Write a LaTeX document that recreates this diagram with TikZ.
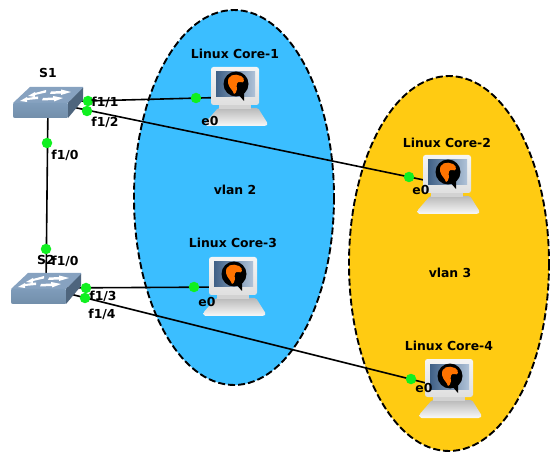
\documentclass[tikz,border=0pt]{standalone}
\usepackage{fontspec}
\setmainfont{DejaVu Sans}
\definecolor{vlanblue}{HTML}{3BBEFF}
\definecolor{vlanyellow}{HTML}{FFCB12}
\definecolor{swtop}{HTML}{87A2C0}
\definecolor{swfront}{HTML}{7091B2}
\definecolor{swside}{HTML}{A3B8CC}
\definecolor{scr}{HTML}{4F78A8}
\definecolor{linkdot}{HTML}{10F020}
\tikzset{
  vlan/.style={draw=black,line width=1.9pt,dash pattern=on 7pt off 3pt},
  link/.style={draw=black,line width=1.6pt},
  dot/.style={circle,fill=linkdot,draw=none,minimum size=10.5pt,inner sep=0pt},
  lab/.style={font=\bfseries\fontsize{12.4}{14}\selectfont,text=black,inner sep=0pt,anchor=center},
}
% monitor top-left at (#1,#2)
\newcommand{\pcicon}[2]{%
\begin{scope}[shift={(#1,#2)}]
  \shade[top color=gray!55,bottom color=white!95!gray,rounded corners=1.5pt] (7,41) -- (47,41) -- (57,57) -- (55,59) -- (-5,59) -- (-6,56) -- cycle;
  \fill[gray!35] (8,36) rectangle (40,42);
  \shade[top color=white!92!gray,bottom color=gray!25,rounded corners=2.5pt] (0,0) rectangle (48,38);
  \shade[left color=scr!80!black,right color=scr!45!white] (5,5) rectangle (44,30);
  \fill[black] (25,17) circle (12.5);
  \fill[black] (26,26) -- (33,34) -- (33,24) -- cycle;
  \fill[orange!90!red] (17,16) .. controls (16,8) and (24,6) .. (30,9) .. controls (35,12) and (33,17) .. (29,15) .. controls (26,14) and (25,18) .. (26,22) .. controls (26,25) and (24,27) .. (23,27) .. controls (22,23) and (18,21) .. (17,16) -- cycle;
\end{scope}}
\newcommand{\swicon}[2]{%
\begin{scope}[shift={(#1,#2)}]
  \fill[swtop] (17,0) -- (70,0) -- (70,2) -- (55,16) -- (0,16) -- cycle;
  \shade[top color=swfront!90!white,bottom color=swfront!85!gray,rounded corners=1pt] (0,16) -- (55,16) -- (55,31) -- (1,31) -- (0,30) -- cycle;
  \fill[swfront!70!black] (55,16) -- (70,1) -- (70,13) -- (55,31) -- cycle;
  \fill[white] (15,9) -- (22,5) -- (22,6) -- (33,3) -- (33,5.5) -- (22,8) -- (22,10) -- cycle;
  \fill[white] (38,4.5) -- (48,4) -- (48,2.5) -- (58,5) -- (48,8) -- (48,6.5) -- (37,7) -- cycle;
  \fill[white] (7,14) -- (14,10) -- (14,11) -- (25,9.5) -- (25,12) -- (14,13) -- (14,15) -- cycle;
  \fill[white] (30,11) -- (40,10.5) -- (40,9) -- (50,11) -- (41,14.5) -- (41,13) -- (29,13.5) -- cycle;
\end{scope}}
\begin{document}
\begin{tikzpicture}[x=1pt,y=-1pt]
\useasboundingbox (0,0) rectangle (560,465);
\fill[white] (0,0) rectangle (560,465);
\draw[vlan,fill=vlanblue] (234,197.5) ellipse [x radius=100,y radius=187.5];
\draw[vlan,fill=vlanyellow] (449,263.5) ellipse [x radius=100,y radius=187.5];
\coordinate (s1) at (48,102);
\coordinate (s2) at (46,288);
\coordinate (c1) at (238,97);
\coordinate (c2) at (448,185);
\coordinate (c3) at (236,287);
\coordinate (c4) at (450,389);
\draw[link] (s1) -- (s2);
\draw[link] (s1) -- (c1);
\draw[link] (s1) -- (c2);
\draw[link] (s2) -- (c3);
\draw[link] (s2) -- (c4);
\swicon{13}{87}
\swicon{11}{273}
\pcicon{211}{67}
\pcicon{423}{155}
\pcicon{209}{257}
\pcicon{425}{359}
\node[dot] (d1) at (47,143) {};
\node[dot] (d2) at (46,249) {};
\node[dot] (d3) at (88,101) {};
\node[dot] (d4) at (87,111) {};
\node[dot] (d5) at (196,98) {};
\node[dot] (d6) at (409,177) {};
\node[dot] (d7) at (86,288) {};
\node[dot] (d8) at (85,298) {};
\node[dot] (d9) at (194,287) {};
\node[dot] (d10) at (411,379) {};
\node[lab] (ls1) at (48,73) {S1};
\node[lab] (ls2) at (46,260) {S2};
\node[lab] (l1) at (235,54) {Linux Core-1};
\node[lab] (l2) at (447,143) {Linux Core-2};
\node[lab] (l3) at (233,243) {Linux Core-3};
\node[lab] (l4) at (449,346) {Linux Core-4};
\node[lab] (v2) at (235,190) {vlan 2};
\node[lab] (v3) at (450,273) {vlan 3};
\node[lab] (p1) at (65,155) {f1/0};
\node[lab] (p2) at (65,261) {f1/0};
\node[lab] (p3) at (105,102) {f1/1};
\node[lab] (p4) at (105,122) {f1/2};
\node[lab] (p5) at (103,296) {f1/3};
\node[lab] (p6) at (102,314) {f1/4};
\node[lab] (e1) at (210,121) {e0};
\node[lab] (e2) at (421,190) {e0};
\node[lab] (e3) at (207,302) {e0};
\node[lab] (e4) at (424,388) {e0};
\end{tikzpicture}
\end{document}
